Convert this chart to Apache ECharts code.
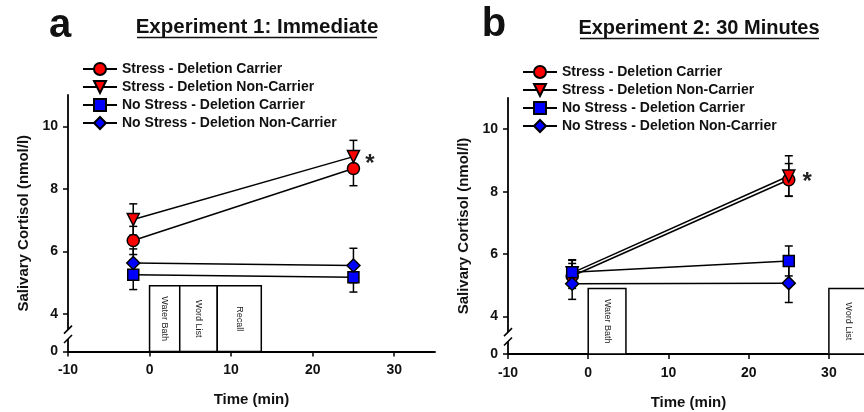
<!DOCTYPE html>
<html>
<head>
<meta charset="utf-8">
<script src="https://cdn.jsdelivr.net/npm/echarts@6/dist/echarts.min.js"></script>
<style>
  html, body { margin: 0; padding: 0; background: #fff; }
  #chart { width: 864px; height: 412px; }
</style>
</head>
<body>
<div id="chart"></div>
<script>
// ---- data ----
const seriesNames = [
  "Stress - Deletion Carrier",
  "Stress - Deletion Non-Carrier",
  "No Stress - Deletion Carrier",
  "No Stress - Deletion Non-Carrier"
];
const timePoints = [-2, 25];

// Experiment 1: Immediate (mean, SE) per group, at timePoints
const exp1StressCarrier = [6.35, 8.65];
const exp1StressNonCarrier = [7.02, 9.03];
const exp1NoStressCarrier = [5.25, 5.17];
const exp1NoStressNonCarrier = [5.63, 5.55];
const exp1StressCarrierSE = [0.45, 0.55];
const exp1StressNonCarrierSE = [0.5, 0.52];
const exp1NoStressCarrierSE = [0.47, 0.47];
const exp1NoStressNonCarrierSE = [0.45, 0.55];

// Experiment 2: 30 Minutes
const exp2StressCarrier = [5.3, 8.38];
const exp2StressNonCarrier = [5.4, 8.5];
const exp2NoStressCarrier = [5.42, 5.78];
const exp2NoStressNonCarrier = [5.05, 5.07];
const exp2StressCarrierSE = [0.4, 0.52];
const exp2StressNonCarrierSE = [0.4, 0.65];
const exp2NoStressCarrierSE = [0.4, 0.48];
const exp2NoStressNonCarrierSE = [0.5, 0.62];

// task boxes (start, end in minutes)
const exp1Tasks = ["Water Bath", "Word List", "Recall"];
const exp1TaskStart = [0, 3.7, 8.3];
const exp1TaskEnd = [3.7, 8.3, 13.7];
const exp2Tasks = ["Water Bath", "Word List"];
const exp2TaskStart = [0, 30];
const exp2TaskEnd = [4.7, 35];

const yTicks = [4, 6, 8, 10];
const xTicks = [-10, 0, 10, 20, 30];

// ---- styling ----
const AXIS_BASE = 2.8;   // where the broken axis shows "0"
const BOX_TOP = 4.9;
const symbols = ["circle", "triangle", "rect", "diamond"];
const symbolRotations = [0, 180, 0, 0];
const symbolSizes = [12, 12, 11, 13];
const colors = ["#ff0000", "#ff0000", "#0000ff", "#0000ff"];
const FONT = "Arial, 'Liberation Sans', sans-serif";

const chart = echarts.init(document.getElementById("chart"));

function makeAxes(gridIndex) {
  const x = {
    gridIndex: gridIndex,
    type: "value",
    min: -10,
    max: 35,
    interval: 10,
    name: "Time (min)",
    nameLocation: "middle",
    nameGap: 41,
    nameTextStyle: { fontFamily: FONT, fontWeight: "bold", fontSize: 15, color: "#111" },
    axisLine: { onZero: false, lineStyle: { color: "#000", width: 1.8 } },
    axisTick: { inside: false, length: 5, customValues: xTicks, lineStyle: { color: "#000", width: 1.5 } },
    axisLabel: { margin: 12, customValues: xTicks, fontFamily: FONT, fontWeight: "bold", fontSize: 14, color: "#111" },
    splitLine: { show: false }
  };
  const y = {
    gridIndex: gridIndex,
    type: "value",
    min: AXIS_BASE,
    max: 11,
    name: "Salivary Cortisol (nmol/l)",
    nameLocation: "middle",
    nameGap: 37,
    nameTextStyle: { fontFamily: FONT, fontWeight: "bold", fontSize: 15, color: "#111" },
    axisLine: { onZero: false, lineStyle: { color: "#000", width: 1.8 } },
    axisTick: { length: 5, customValues: [AXIS_BASE].concat(yTicks), lineStyle: { color: "#000", width: 1.5 } },
    axisLabel: {
      margin: 10,
      customValues: [AXIS_BASE].concat(yTicks),
      formatter: (v) => (Math.abs(v - AXIS_BASE) < 1e-6 ? "0" : String(v)),
      fontFamily: FONT, fontWeight: "bold", fontSize: 14, color: "#111"
    },
    splitLine: { show: false }
  };
  return [x, y];
}

function makeSeries(gridIndex, means, errs, starLabelOffset, tasks, taskStart, taskEnd) {
  const out = [];
  // task boxes
  out.push({
    type: "custom",
    xAxisIndex: gridIndex,
    yAxisIndex: gridIndex,
    z: 1,
    silent: true,
    data: taskStart.map((s, i) => [s, taskEnd[i]]),
    encode: { x: [0, 1] },
    renderItem: (params, api) => {
      const p0 = api.coord([api.value(0), BOX_TOP]);
      const p1 = api.coord([api.value(1), AXIS_BASE]);
      return {
        type: "group",
        children: [
          {
            type: "rect",
            shape: { x: p0[0], y: p0[1], width: p1[0] - p0[0], height: p1[1] - p0[1] },
            style: { fill: "#fff", stroke: "#000", lineWidth: 1.5 }
          },
          {
            type: "text",
            x: (p0[0] + p1[0]) / 2,
            y: (p0[1] + p1[1]) / 2,
            rotation: -Math.PI / 2,
            style: {
              x: 0, y: 0,
              text: tasks[params.dataIndex],
              align: "center",
              verticalAlign: "middle",
              fontFamily: FONT,
              fontSize: 9,
              fill: "#222"
            }
          }
        ]
      };
    }
  });
  // error bars
  const errData = [];
  means.forEach((m, s) => {
    m.forEach((v, i) => errData.push([timePoints[i], v - errs[s][i], v + errs[s][i]]));
  });
  out.push({
    type: "custom",
    xAxisIndex: gridIndex,
    yAxisIndex: gridIndex,
    z: 2,
    silent: true,
    data: errData,
    encode: { x: 0, y: [1, 2] },
    renderItem: (params, api) => {
      const x = api.value(0);
      const lo = api.coord([x, api.value(1)]);
      const hi = api.coord([x, api.value(2)]);
      const cap = 4;
      const st = { stroke: "#000", lineWidth: 1.5 };
      return {
        type: "group",
        children: [
          { type: "line", shape: { x1: lo[0], y1: lo[1], x2: hi[0], y2: hi[1] }, style: st },
          { type: "line", shape: { x1: lo[0] - cap, y1: lo[1], x2: lo[0] + cap, y2: lo[1] }, style: st },
          { type: "line", shape: { x1: hi[0] - cap, y1: hi[1], x2: hi[0] + cap, y2: hi[1] }, style: st }
        ]
      };
    }
  });
  // group lines with markers
  means.forEach((m, s) => {
    const data = m.map((v, i) => [timePoints[i], v]);
    if (s === 1) {
      data[1] = {
        value: data[1],
        label: {
          show: true, formatter: "*", position: "right",
          offset: starLabelOffset,
          fontFamily: FONT, fontWeight: "bold", fontSize: 24, color: "#222"
        }
      };
    }
    out.push({
      name: seriesNames[s],
      type: "line",
      xAxisIndex: gridIndex,
      yAxisIndex: gridIndex,
      z: 3,
      symbol: symbols[s],
      symbolRotate: symbolRotations[s],
      symbolSize: symbolSizes[s],
      itemStyle: { color: colors[s], borderColor: "#000", borderWidth: 1.5 },
      lineStyle: { color: "#000", width: 1.5 },
      emphasis: { disabled: true },
      data: data
    });
  });
  return out;
}

const axesA = makeAxes(0);
const axesB = makeAxes(1);

const legendBase = {
  orient: "vertical",
  padding: 0,
  itemWidth: 34,
  itemHeight: 15,
  itemGap: 4,
  data: seriesNames,
  textStyle: { fontFamily: FONT, fontWeight: "bold", fontSize: 14, color: "#111" }
};

const option = {
  backgroundColor: "#fff",
  animation: false,
  grid: [
    { left: 68, right: 429, top: 95, bottom: 60.5, outerBoundsMode: "none" },
    { left: 508, right: -5, top: 98, bottom: 58, outerBoundsMode: "none" }
  ],
  xAxis: [axesA[0], axesB[0]],
  yAxis: [axesA[1], axesB[1]],
  legend: [
    Object.assign({}, legendBase, { left: 82, top: 62 }),
    Object.assign({}, legendBase, { left: 522, top: 65 })
  ],
  series: [].concat(
    makeSeries(0,
      [exp1StressCarrier, exp1StressNonCarrier, exp1NoStressCarrier, exp1NoStressNonCarrier],
      [exp1StressCarrierSE, exp1StressNonCarrierSE, exp1NoStressCarrierSE, exp1NoStressNonCarrierSE],
      [0, 8], exp1Tasks, exp1TaskStart, exp1TaskEnd),
    makeSeries(1,
      [exp2StressCarrier, exp2StressNonCarrier, exp2NoStressCarrier, exp2NoStressNonCarrier],
      [exp2StressCarrierSE, exp2StressNonCarrierSE, exp2NoStressCarrierSE, exp2NoStressNonCarrierSE],
      [2, 6], exp2Tasks, exp2TaskStart, exp2TaskEnd)
  )
};

chart.setOption(option);

// titles, panel letters and the axis break marks
function breakMarks(gridIndex) {
  const hi = chart.convertToPixel({ gridIndex: gridIndex }, [-10, 3.5]);
  const lo = chart.convertToPixel({ gridIndex: gridIndex }, [-10, 3.2]);
  const st = { stroke: "#000", lineWidth: 1.6 };
  return [
    { type: "rect", shape: { x: hi[0] - 3, y: hi[1], width: 6, height: lo[1] - hi[1] }, style: { fill: "#fff" }, z: 50 },
    { type: "line", shape: { x1: hi[0] - 4, y1: hi[1] + 4, x2: hi[0] + 4, y2: hi[1] - 4 }, style: st, z: 51 },
    { type: "line", shape: { x1: lo[0] - 4, y1: lo[1] + 4, x2: lo[0] + 4, y2: lo[1] - 4 }, style: st, z: 51 }
  ];
}

function titleText(text, cx, cy, size) {
  return {
    type: "text", x: cx, y: cy, z: 60,
    style: { text: text, align: "center", verticalAlign: "middle", fontFamily: FONT, fontWeight: "bold", fontSize: size, fill: "#111" }
  };
}

chart.setOption({
  graphic: [].concat(
    breakMarks(0),
    breakMarks(1),
    [
      titleText("a", 60, 26, 40),
      titleText("b", 494, 25, 40),
      titleText("Experiment 1: Immediate", 257, 27, 20.5),
      titleText("Experiment 2: 30 Minutes", 699, 28, 20),
      { type: "line", shape: { x1: 137, y1: 37.5, x2: 377, y2: 37.5 }, style: { stroke: "#111", lineWidth: 1.5 } },
      { type: "line", shape: { x1: 580, y1: 38.5, x2: 819, y2: 38.5 }, style: { stroke: "#111", lineWidth: 1.5 } }
    ]
  )
});
</script>
</body>
</html>
